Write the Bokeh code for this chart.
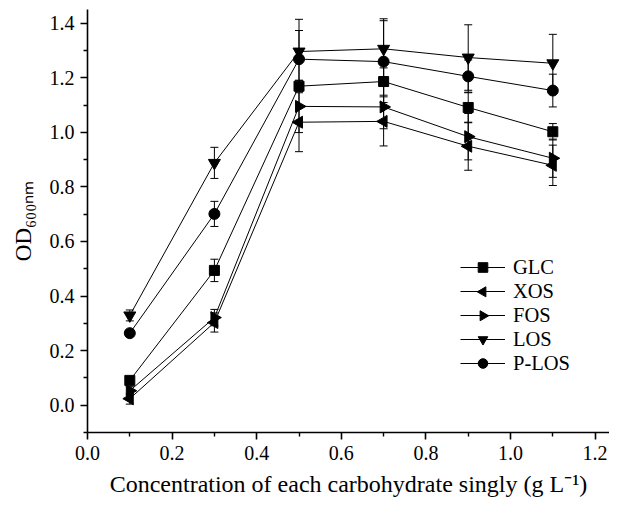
import math
from bokeh.plotting import figure
from bokeh.models import (ColumnDataSource, Whisker, TeeHead, FixedTicker,
                          Legend, LegendItem, Range1d)
from bokeh.embed import file_html
from bokeh.resources import INLINE

# ---- data ----
conc = [0.1, 0.3, 0.5, 0.7, 0.9, 1.1]
glc = [0.091, 0.494, 1.169, 1.186, 1.091, 1.002]
xos = [0.024, 0.303, 1.037, 1.040, 0.949, 0.879]
fos = [0.053, 0.321, 1.095, 1.093, 0.984, 0.905]
los = [0.329, 0.888, 1.296, 1.306, 1.274, 1.253]
plos = [0.264, 0.701, 1.268, 1.259, 1.205, 1.153]

glc_err = [0.010, 0.041, 0.020, 0.050, 0.056, 0.030]
xos_err = [0.020, 0.035, 0.108, 0.090, 0.088, 0.074]
fos_err = [0.015, 0.030, 0.096, 0.080, 0.085, 0.070]
los_err = [0.020, 0.057, 0.118, 0.110, 0.120, 0.106]
plos_err = [0.012, 0.046, 0.105, 0.150, 0.060, 0.060]

series_names = ["GLC", "XOS", "FOS", "LOS", "P-LOS"]
x_ticks = [0.0, 0.2, 0.4, 0.6, 0.8, 1.0, 1.2]
y_ticks = [0.0, 0.2, 0.4, 0.6, 0.8, 1.0, 1.2, 1.4]
x_minor = [0.1, 0.3, 0.5, 0.7, 0.9, 1.1]
y_minor = [-0.1, 0.1, 0.3, 0.5, 0.7, 0.9, 1.1, 1.3]

FONT = "Liberation Serif"

W, H = 609, 499
BL, BR, BT, BB = 87, 0, 9, 66
X0, X1 = 0.0, 1.234
Y0, Y1 = -0.1, 1.45
frame_w = W - BL - BR
frame_h = H - BT - BB
px_x = frame_w / (X1 - X0)
px_y = frame_h / (Y1 - Y0)

p = figure(width=W, height=H, output_backend="svg", toolbar_location=None,
           x_range=Range1d(X0, X1), y_range=Range1d(Y0, Y1),
           min_border_left=BL, min_border_right=BR, min_border_top=BT,
           min_border_bottom=BB)
p.outline_line_color = None
p.xgrid.visible = False
p.ygrid.visible = False
p.background_fill_color = "white"

for ax, ticks, minor in ((p.xaxis[0], x_ticks, x_minor), (p.yaxis[0], y_ticks, y_minor)):
    ax.ticker = FixedTicker(ticks=ticks, minor_ticks=minor)
    ax.major_label_overrides = {t: f"{t:.1f}" for t in ticks}
    ax.axis_line_width = 1.6
    ax.axis_line_color = "black"
    ax.major_tick_line_width = 1.6
    ax.minor_tick_line_width = 1.4
    ax.major_tick_out = 7
    ax.major_tick_in = 0
    ax.minor_tick_out = 4
    ax.minor_tick_in = 0
    ax.major_label_text_font = FONT
    ax.major_label_text_font_size = "20px"
    ax.major_label_text_color = "black"
    ax.axis_label_text_font = FONT
    ax.axis_label_text_font_style = "normal"
    ax.axis_label_text_color = "black"
p.xaxis.major_label_standoff = 6
p.yaxis.major_label_standoff = 6

p.xaxis.axis_label = "Concentration of each carbohydrate singly (g L\u207b\u00b9)"
p.xaxis.axis_label_text_font_size = "24px"
p.xaxis.axis_label_standoff = 8

p.yaxis.axis_label = "OD\u2086\u2080\u2080\u2099\u2098"
p.yaxis.axis_label_text_font_size = "23px"
p.yaxis.axis_label_standoff = 11

data = [glc, xos, fos, los, plos]
errs = [glc_err, xos_err, fos_err, los_err, plos_err]
markers = [("square", 0.0, 10), ("triangle", math.pi / 2, 12), ("triangle", -math.pi / 2, 12),
           ("inverted_triangle", 0.0, 12), ("circle", 0.0, 11)]

# legend layout
LEG_X, LEG_Y = 373, 57
GW, GH = 45, 24
n_items = len(series_names)

items = []
for i, (name, ys, es, (mk, ang, sz)) in enumerate(zip(series_names, data, errs, markers)):
    src = ColumnDataSource(dict(x=conc, y=ys,
                                upper=[a + b for a, b in zip(ys, es)],
                                lower=[a - b for a, b in zip(ys, es)]))
    w = Whisker(base="x", upper="upper", lower="lower", source=src,
                line_color="black", line_width=1,
                upper_head=TeeHead(size=8, line_color="black", line_width=1),
                lower_head=TeeHead(size=8, line_color="black", line_width=1))
    p.add_layout(w)
    r1 = p.line("x", "y", source=src, line_color="black", line_width=1)
    r2 = p.scatter("x", "y", source=src, marker=mk, angle=ang, size=sz,
                   fill_color="black", line_color="black")
    if ang == 0.0:
        items.append(LegendItem(label=name, renderers=[r1, r2]))
    else:
        # Bokeh never rotates legend glyphs, so the rotated marker is drawn on top
        items.append(LegendItem(label=name, renderers=[r1]))
        lx = X0 + (LEG_X + GW / 2) / px_x
        ly = Y0 + (LEG_Y + GH * n_items - GH / 2 - GH * i) / px_y
        p.scatter([lx], [ly], marker=mk, angle=ang, size=10,
                  fill_color="black", line_color="black")

legend = Legend(items=items, location=(LEG_X, LEG_Y), glyph_width=GW, glyph_height=GH,
                label_height=GH, spacing=0, padding=0, margin=0, label_standoff=8,
                label_text_font=FONT, label_text_font_size="20.5px",
                label_text_color="black", border_line_color=None,
                background_fill_alpha=0)
p.add_layout(legend)

open("out.html", "w").write(file_html(p, INLINE))
